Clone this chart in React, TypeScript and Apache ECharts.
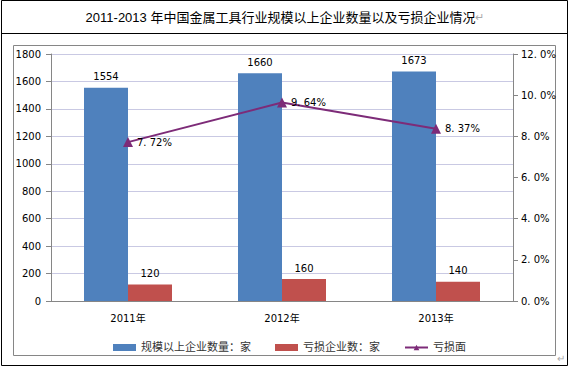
import React, { useEffect, useRef } from "react";
import * as echarts from "echarts";

const title = "2011-2013 年中国金属工具行业规模以上企业数量以及亏损企业情况";
const categories = ["2011年", "2012年", "2013年"];
const scaleCount = [1554, 1660, 1673];
const lossCount = [120, 160, 140];
const lossRate = [7.72, 9.64, 8.37];
const seriesNames = ["规模以上企业数量：家", "亏损企业数：家", "亏损面"];

const FONT = "'DejaVu Sans', 'Noto Sans CJK SC', sans-serif";

export default function App() {
  const ref = useRef<HTMLDivElement>(null);
  useEffect(() => {
    document.body.style.margin = "0";
    const chart = echarts.init(ref.current!, null, { renderer: "svg" });
    chart.setOption({
      animation: false,
      backgroundColor: "#ffffff",
      textStyle: { fontFamily: FONT },
      graphic: [
        {
          type: "rect",
          shape: { x: 1.5, y: 0.5, width: 566, height: 365 },
          style: { fill: "none", stroke: "#000", lineWidth: 1 },
          silent: true,
        },
        {
          type: "line",
          shape: { x1: 1.5, y1: 33.5, x2: 567.5, y2: 33.5 },
          style: { stroke: "#000", lineWidth: 1 },
          silent: true,
        },
        {
          type: "rect",
          shape: { x: 13.5, y: 45.5, width: 542, height: 310 },
          style: { fill: "none", stroke: "#868686", lineWidth: 1 },
          silent: true,
        },
        {
          type: "text",
          x: 285,
          y: 17,
          style: {
            text: "{t|" + title + "}{m|↵}",
            align: "center",
            verticalAlign: "middle",
            rich: {
              t: { fontSize: 13, fill: "#000", fontFamily: "'Liberation Sans', 'Noto Sans CJK SC', sans-serif" },
              m: { fontSize: 11, fill: "#aaa" },
            },
          },
        },
        {
          type: "text",
          x: 557,
          y: 353,
          style: { text: "↵", fontSize: 10, fill: "#aaa" },
        },
      ],
      grid: { left: 51, right: 57, top: 54, bottom: 66 },
      legend: {
        left: 108,
        top: 337,
        itemGap: 24,
        itemWidth: 23,
        itemHeight: 7,
        textStyle: { fontSize: 11, color: "#333", fontFamily: FONT },
        data: [
          { name: seriesNames[0], icon: "rect" },
          { name: seriesNames[1], icon: "rect" },
          { name: seriesNames[2], itemStyle: {} },
        ],
      },
      xAxis: {
        type: "category",
        data: categories,
        axisLine: { lineStyle: { color: "#868686" } },
        axisTick: { show: false },
        axisLabel: { fontSize: 10, color: "#000", margin: 12 },
      },
      yAxis: [
        {
          type: "value",
          min: 0,
          max: 1800,
          interval: 200,
          axisLine: { show: true, lineStyle: { color: "#868686" } },
          axisTick: { show: true, length: 5, lineStyle: { color: "#868686" } },
          axisLabel: { fontSize: 10, color: "#000", margin: 10, formatter: (v: number) => String(v) },
          splitLine: { lineStyle: { color: "#C9C9E3" } },
        },
        {
          type: "value",
          min: 0,
          max: 12,
          interval: 2,
          axisLine: { show: true, lineStyle: { color: "#868686" } },
          axisTick: { show: true, length: 5, lineStyle: { color: "#868686" } },
          axisLabel: {
            fontSize: 10,
            color: "#000",
            margin: 8,
            formatter: (v: number) => v.toFixed(1).replace(".", ". ") + "%",
          },
          splitLine: { show: false },
        },
      ],
      series: [
        {
          name: seriesNames[0],
          type: "bar",
          data: scaleCount,
          barWidth: 44,
          barGap: "0%",
          itemStyle: { color: "#4F81BD" },
          label: { show: true, position: "top", fontSize: 10, color: "#000", distance: 6 },
        },
        {
          name: seriesNames[1],
          type: "bar",
          data: lossCount,
          barWidth: 44,
          barGap: "0%",
          itemStyle: { color: "#C0504D" },
          label: { show: true, position: "top", fontSize: 10, color: "#000", distance: 6 },
        },
        {
          name: seriesNames[2],
          type: "line",
          yAxisIndex: 1,
          data: lossRate,
          symbol: "triangle",
          symbolSize: 10,
          lineStyle: { color: "#7D2B78", width: 2 },
          itemStyle: { color: "#7D2B78" },
          label: {
            show: true,
            position: "right",
            fontSize: 10,
            color: "#000",
            distance: 4,
            formatter: (p: any) => p.value.toFixed(2).replace(".", ". ") + "%",
          },
        },
      ],
    });
    return () => chart.dispose();
  }, []);
  return <div ref={ref} style={{ position: "absolute", left: 0, top: 0, width: 570, height: 367 }} />;
}
